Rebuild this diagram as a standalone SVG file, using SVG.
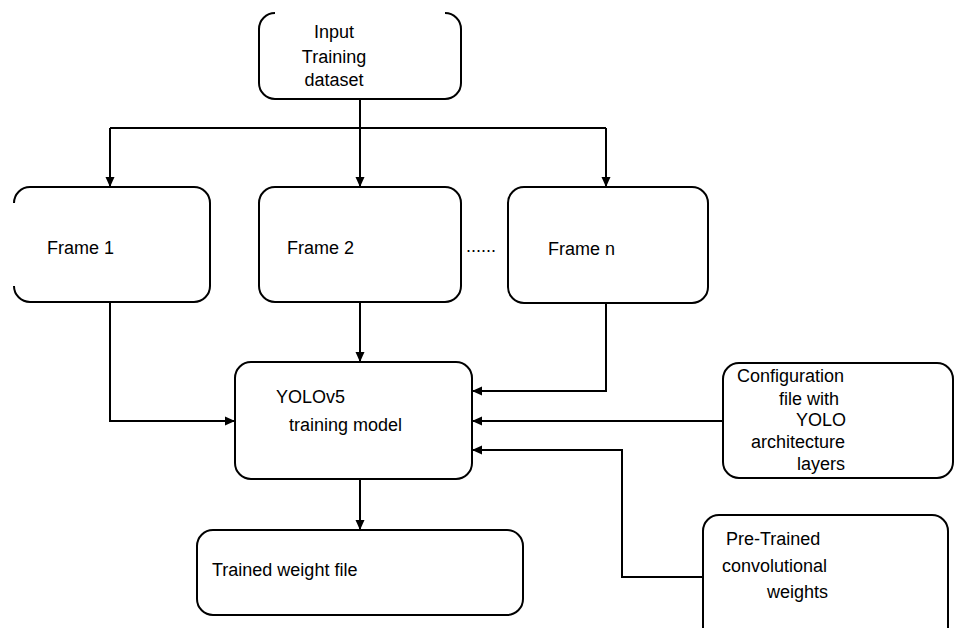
<svg xmlns="http://www.w3.org/2000/svg" width="954" height="628" viewBox="0 0 954 628">
<style>
.box{fill:#fff;stroke:#000;stroke-width:2}
.t{font-family:"Liberation Sans",Arial,sans-serif;font-size:18px;fill:#000}
.c{fill:none;stroke:#000;stroke-width:2}
</style>
<defs>
<marker id="ah" markerWidth="10" markerHeight="10" refX="9" refY="5" orient="auto" markerUnits="userSpaceOnUse">
<path d="M0,0.5 L10,5 L0,9.5 Z" fill="#000"/>
</marker>
</defs>
<rect width="954" height="628" fill="#fff"/>
<g id="connectors">
<path class="c" d="M360 99 V186" marker-end="url(#ah)"/>
<path class="c" d="M110 128 H606"/>
<path class="c" d="M110 128 V186" marker-end="url(#ah)"/>
<path class="c" d="M606 128 V186" marker-end="url(#ah)"/>
<path class="c" d="M110 302 V421 H234" marker-end="url(#ah)"/>
<path class="c" d="M360 302 V361" marker-end="url(#ah)"/>
<path class="c" d="M606 302 V391 H473" marker-end="url(#ah)"/>
<path class="c" d="M723 421 H473" marker-end="url(#ah)"/>
<path class="c" d="M703 577 H622 V450 H473" marker-end="url(#ah)"/>
<path class="c" d="M360 479 V529" marker-end="url(#ah)"/>
</g>
<g id="input">
<path class="box" d="M275 13 A16 16 0 0 0 259 29 V83 A16 16 0 0 0 275 99 H445 A16 16 0 0 0 461 83 V29 A16 16 0 0 0 445 13"/>
<text class="t" x="334" y="38" text-anchor="middle">Input</text>
<text class="t" x="334" y="63" text-anchor="middle">Training</text>
<text class="t" x="334" y="86" text-anchor="middle">dataset</text>
</g>
<g id="frame1">
<path class="box" d="M14 203 A16 16 0 0 1 30 187 H194 A16 16 0 0 1 210 203 V286 A16 16 0 0 1 194 302 H30 A16 16 0 0 1 14 286"/>
<text class="t" x="47" y="254">Frame 1</text>
</g>
<g id="frame2">
<rect class="box" x="259" y="187" width="202" height="115" rx="16"/>
<text class="t" x="287" y="254">Frame 2</text>
</g>
<text class="t" x="466" y="252" font-size="14">......</text>
<g id="framen">
<rect class="box" x="508" y="187" width="200" height="116" rx="16"/>
<text class="t" x="548" y="255">Frame n</text>
</g>
<g id="yolo">
<rect class="box" x="235" y="362" width="237" height="117" rx="16"/>
<text class="t" x="276" y="403">YOLOv5</text>
<text class="t" x="289" y="431">training model</text>
</g>
<g id="config">
<rect class="box" x="723" y="363" width="230" height="115" rx="16"/>
<text class="t" x="737" y="382">Configuration</text>
<text class="t" x="779" y="405">file with</text>
<text class="t" x="796" y="426">YOLO</text>
<text class="t" x="751" y="448">architecture</text>
<text class="t" x="797" y="470">layers</text>
</g>
<g id="pretrained">
<rect class="box" x="703" y="515" width="245" height="130" rx="16"/>
<text class="t" x="726" y="545">Pre-Trained</text>
<text class="t" x="722" y="572">convolutional</text>
<text class="t" x="767" y="598">weights</text>
</g>
<g id="trained">
<rect class="box" x="197" y="530" width="326" height="85" rx="16"/>
<text class="t" x="212" y="576">Trained weight file</text>
</g>
</svg>
